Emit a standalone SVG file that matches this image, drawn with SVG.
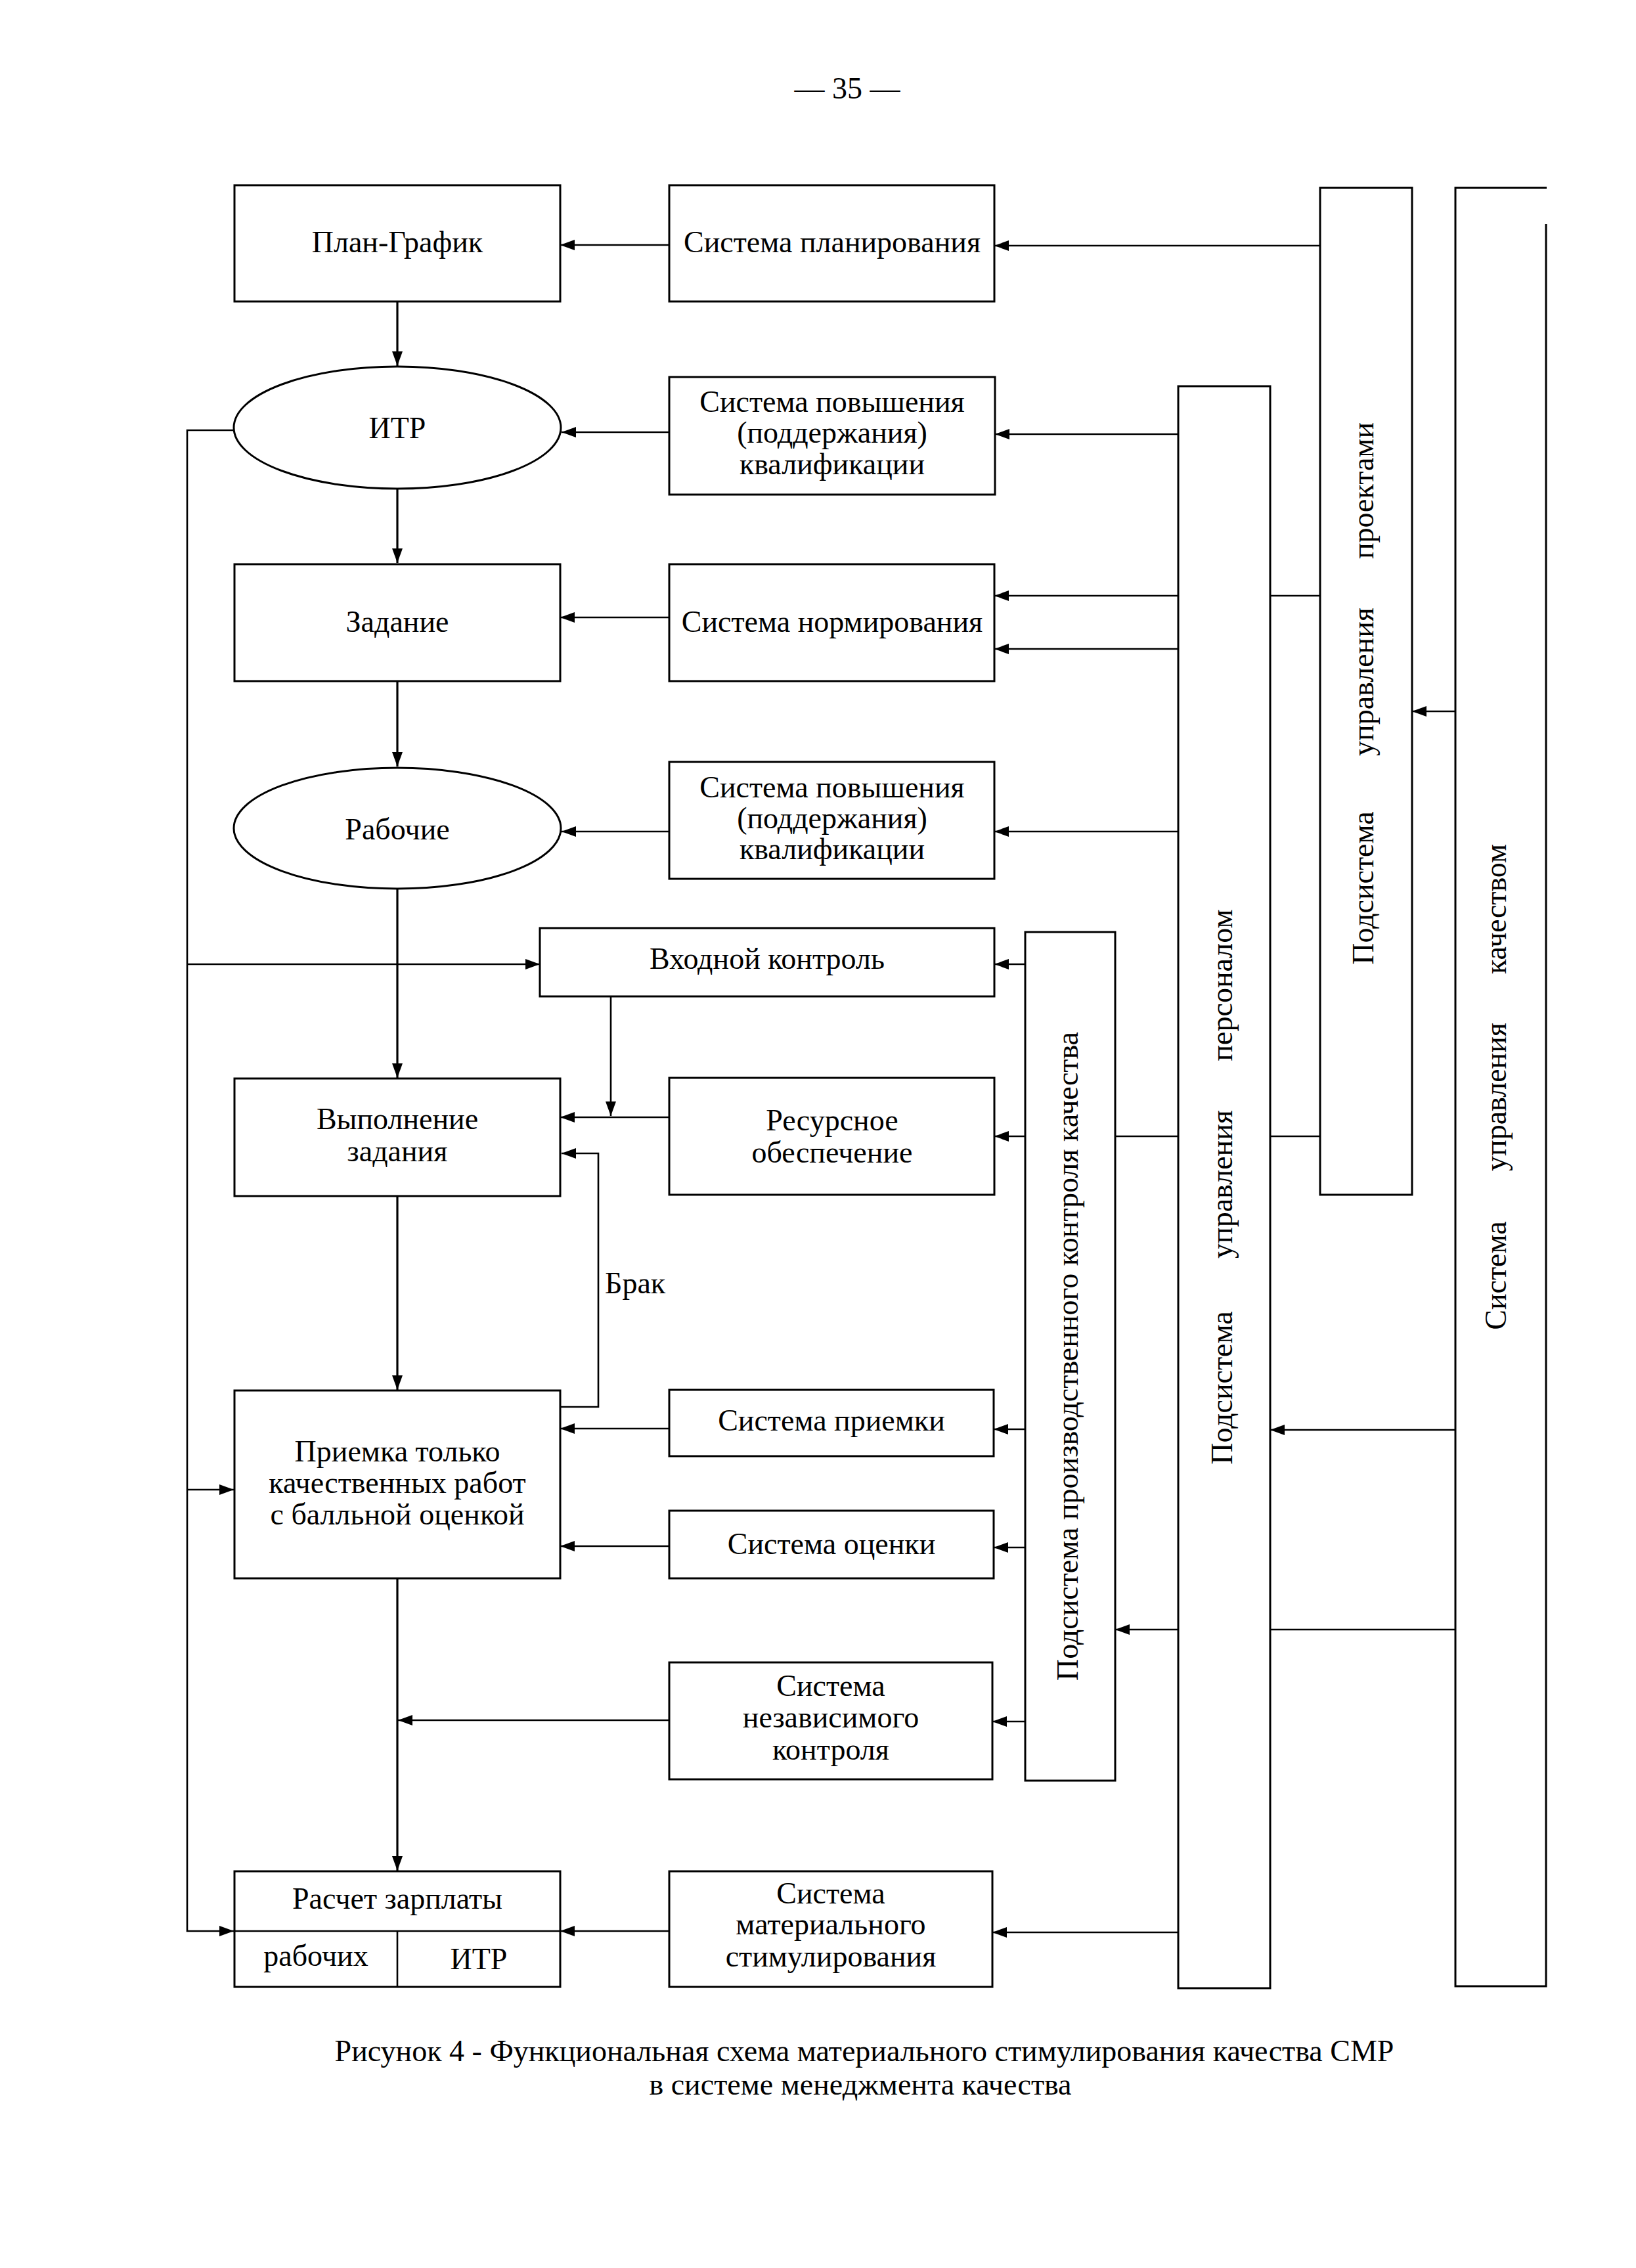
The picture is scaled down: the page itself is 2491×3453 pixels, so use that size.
<svg xmlns="http://www.w3.org/2000/svg" width="2491" height="3453" viewBox="0 0 2491 3453">
<style>
.b{fill:#fff;stroke:#000;stroke-width:3}
.c{fill:none;stroke:#000;stroke-width:2.6}
.m{stroke-width:3.2}
.t{font-family:"Liberation Serif","Times New Roman",serif;font-size:46px;fill:#000;text-anchor:middle}
.l{text-anchor:start}
</style>
<defs>
<marker id="ah" viewBox="0 0 22 16" refX="22" refY="8" markerWidth="22" markerHeight="16" markerUnits="userSpaceOnUse" orient="auto"><path d="M0,0 L22,8 L0,16 z" fill="#000"/></marker>
</defs>
<rect width="2491" height="3453" fill="#fff"/>
<text class="t" x="1290" y="150">— 35 —</text>

<g id="connectors">
<path class="c" d="M1019,373 H853" marker-end="url(#ah)"/>
<path class="c" d="M2010,374 H1514" marker-end="url(#ah)"/>
<path class="c m" d="M605,459 V557" marker-end="url(#ah)"/>
<path class="c" d="M1019,658 H855" marker-end="url(#ah)"/>
<path class="c" d="M1794,661 H1515" marker-end="url(#ah)"/>
<path class="c m" d="M605,744 V857" marker-end="url(#ah)"/>
<path class="c" d="M1019,940 H853" marker-end="url(#ah)"/>
<path class="c" d="M1794,907 H1514" marker-end="url(#ah)"/>
<path class="c" d="M1794,988 H1514" marker-end="url(#ah)"/>
<path class="c" d="M1934,907 H2010"/>
<path class="c" d="M2216,1083 H2150" marker-end="url(#ah)"/>
<path class="c m" d="M605,1037 V1167" marker-end="url(#ah)"/>
<path class="c" d="M1019,1266 H855" marker-end="url(#ah)"/>
<path class="c" d="M1794,1266 H1514" marker-end="url(#ah)"/>
<path class="c m" d="M605,1353 V1641" marker-end="url(#ah)"/>
<path class="c" d="M356,655 H285 V2940 H356" marker-end="url(#ah)"/>
<path class="c" d="M285,1468 H822" marker-end="url(#ah)"/>
<path class="c" d="M285,2268 H356" marker-end="url(#ah)"/>
<path class="c" d="M1561,1468 H1514" marker-end="url(#ah)"/>
<path class="c" d="M930,1517 V1699" marker-end="url(#ah)"/>
<path class="c" d="M1019,1701 H853" marker-end="url(#ah)"/>
<path class="c" d="M2010,1730 H1934 M1794,1730 H1698"/>
<path class="c" d="M1561,1730 H1514" marker-end="url(#ah)"/>
<path class="c" d="M853,2142 H911 V1756 H855" marker-end="url(#ah)"/>
<path class="c m" d="M605,1821 V2116" marker-end="url(#ah)"/>
<path class="c" d="M1019,2175 H853" marker-end="url(#ah)"/>
<path class="c" d="M1561,2176 H1513" marker-end="url(#ah)"/>
<path class="c" d="M2216,2177 H1934" marker-end="url(#ah)"/>
<path class="c" d="M1019,2354 H853" marker-end="url(#ah)"/>
<path class="c" d="M1561,2356 H1513" marker-end="url(#ah)"/>
<path class="c" d="M2216,2481 H1934"/>
<path class="c" d="M1794,2481 H1698" marker-end="url(#ah)"/>
<path class="c m" d="M605,2403 V2848" marker-end="url(#ah)"/>
<path class="c" d="M1019,2619 H606" marker-end="url(#ah)"/>
<path class="c" d="M1561,2621 H1511" marker-end="url(#ah)"/>
<path class="c" d="M1019,2940 H853" marker-end="url(#ah)"/>
<path class="c" d="M1794,2942 H1511" marker-end="url(#ah)"/>
<text class="t l" x="921" y="1969">Брак</text>
</g>

<g id="plan_grafik"><rect class="b" x="357" y="282" width="496" height="177"/><text class="t" x="605" y="384">План-График</text></g>
<g id="sys_plan"><rect class="b" x="1019" y="282" width="495" height="177"/><text class="t" x="1267" y="384">Система планирования</text></g>
<g id="itr"><ellipse class="b" cx="605" cy="651" rx="249" ry="93"/><text class="t" x="605" y="667">ИТР</text></g>
<g id="sys_qual1"><rect class="b" x="1019" y="574" width="496" height="179"/><text class="t" x="1267" y="627">Система повышения<tspan x="1267" y="674">(поддержания)</tspan><tspan x="1267" y="722">квалификации</tspan></text></g>
<g id="zadanie"><rect class="b" x="357" y="859" width="496" height="178"/><text class="t" x="605" y="962">Задание</text></g>
<g id="sys_norm"><rect class="b" x="1019" y="859" width="495" height="178"/><text class="t" x="1267" y="962">Система нормирования</text></g>
<g id="rabochie"><ellipse class="b" cx="605" cy="1261" rx="249" ry="92"/><text class="t" x="605" y="1278">Рабочие</text></g>
<g id="sys_qual2"><rect class="b" x="1019" y="1160" width="495" height="178"/><text class="t" x="1267" y="1214">Система повышения<tspan x="1267" y="1261">(поддержания)</tspan><tspan x="1267" y="1308">квалификации</tspan></text></g>
<g id="vhod_kontrol"><rect class="b" x="822" y="1413" width="692" height="104"/><text class="t" x="1168" y="1475">Входной контроль</text></g>
<g id="vypolnenie"><rect class="b" x="357" y="1642" width="496" height="179"/><text class="t" x="605" y="1719">Выполнение<tspan x="605" y="1768">задания</tspan></text></g>
<g id="resurs"><rect class="b" x="1019" y="1641" width="495" height="178"/><text class="t" x="1267" y="1721">Ресурсное<tspan x="1267" y="1770">обеспечение</tspan></text></g>
<g id="priemka"><rect class="b" x="357" y="2117" width="496" height="286"/><text class="t" x="605" y="2225">Приемка только<tspan x="605" y="2273">качественных работ</tspan><tspan x="605" y="2321">с балльной оценкой</tspan></text></g>
<g id="sys_priemki"><rect class="b" x="1019" y="2116" width="494" height="101"/><text class="t" x="1266" y="2178">Система приемки</text></g>
<g id="sys_ocenki"><rect class="b" x="1019" y="2300" width="494" height="103"/><text class="t" x="1266" y="2366">Система оценки</text></g>
<g id="sys_nezav"><rect class="b" x="1019" y="2531" width="492" height="178"/><text class="t" x="1265" y="2582">Система<tspan x="1265" y="2630">независимого</tspan><tspan x="1265" y="2679">контроля</tspan></text></g>
<g id="raschet"><rect class="b" x="357" y="2849" width="496" height="176"/><path class="c" d="M357,2940 H853 M605,2940 V3025"/><text class="t" x="605" y="2906">Расчет зарплаты</text><text class="t" x="481" y="2993">рабочих</text><text class="t" x="729" y="2998">ИТР</text></g>
<g id="sys_mat"><rect class="b" x="1019" y="2849" width="492" height="176"/><text class="t" x="1265" y="2898">Система<tspan x="1265" y="2945">материального</tspan><tspan x="1265" y="2994">стимулирования</tspan></text></g>
<g id="podsys_proizv"><rect class="b" x="1561" y="1419" width="137" height="1292"/><text class="t" transform="translate(1641,2065) rotate(-90)" x="0" y="0">Подсистема производственного контроля качества</text></g>
<g id="podsys_personal"><rect class="b" x="1794" y="588" width="140" height="2439"/><text class="t" transform="translate(1876,1807) rotate(-90)"><tspan x="-306" y="0">Подсистема</tspan><tspan x="4" y="0">управления</tspan><tspan x="307" y="0">персоналом</tspan></text></g>
<g id="podsys_proekt"><rect class="b" x="2010" y="286" width="140" height="1533"/><text class="t" transform="translate(2091,1052) rotate(-90)"><tspan x="-300" y="0">Подсистема</tspan><tspan x="14" y="0">управления</tspan><tspan x="305" y="0">проектами</tspan></text></g>
<g id="sys_kachestvo"><path class="b" d="M2354,341 V3024 H2216 V286 H2355"/><text class="t" transform="translate(2293,1655) rotate(-90)"><tspan x="-287" y="0">Система</tspan><tspan x="-15" y="0">управления</tspan><tspan x="271" y="0">качеством</tspan></text></g>

<text class="t" x="1316" y="3138" font-size="45">Рисунок 4 - Функциональная схема материального стимулирования качества СМР</text>
<text class="t" x="1310" y="3189" font-size="45">в системе менеджмента качества</text>
</svg>
